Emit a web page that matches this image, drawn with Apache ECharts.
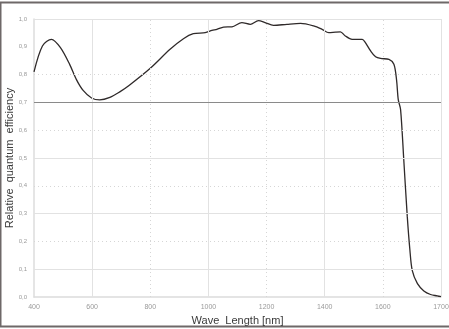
<!DOCTYPE html>
<html>
<head>
<meta charset="utf-8">
<script src="https://cdn.jsdelivr.net/npm/echarts@6/dist/echarts.min.js"></script>
<style>
  html, body { margin: 0; padding: 0; background: #fff; }
  #chart { width: 449px; height: 329px; }
</style>
</head>
<body>
<div id="chart"></div>
<script>
// 波长 (横轴位置, 图中最后一格标注为1700)
var waveLength = [400, 429, 460, 491, 523, 546, 569, 598, 626, 661, 695, 728, 799, 868, 914, 948, 989, 1012, 1029, 1052, 1081, 1115, 1144, 1172, 1195, 1224, 1270, 1317, 1362, 1391, 1414, 1437, 1454, 1471, 1494, 1529, 1540, 1558, 1575, 1592, 1621, 1638, 1647, 1653, 1661, 1672, 1684, 1693, 1701, 1719, 1741, 1764, 1787, 1800];
// 相对量子效率
var efficiency = [0.810, 0.903, 0.927, 0.897, 0.836, 0.782, 0.743, 0.716, 0.709, 0.718, 0.738, 0.762, 0.822, 0.891, 0.929, 0.947, 0.951, 0.959, 0.963, 0.971, 0.972, 0.987, 0.981, 0.994, 0.987, 0.977, 0.981, 0.984, 0.975, 0.963, 0.951, 0.953, 0.954, 0.939, 0.927, 0.927, 0.915, 0.885, 0.864, 0.858, 0.855, 0.837, 0.782, 0.710, 0.674, 0.493, 0.289, 0.169, 0.096, 0.048, 0.022, 0.009, 0.004, 0.001];

// 网格线
var solidX = [600, 1000, 1400, 1800];
var dottedX = [800, 1200, 1600];
var solidY = [0.1, 0.3, 0.5, 1.0];
var dottedY = [0.2, 0.4, 0.6, 0.8];
var refY = 0.7;

var chart = echarts.init(document.getElementById('chart'));

var gridLines = [];
solidX.forEach(function (v) {
    gridLines.push({ xAxis: v, lineStyle: { color: '#e2e2e2', width: 1, type: 'solid' } });
});
dottedX.forEach(function (v) {
    gridLines.push({ xAxis: v, lineStyle: { color: '#d6d6d6', width: 1, type: [1, 3] } });
});
solidY.forEach(function (v) {
    gridLines.push({ yAxis: v, lineStyle: { color: '#e2e2e2', width: 1, type: 'solid' } });
});
dottedY.forEach(function (v) {
    gridLines.push({ yAxis: v, lineStyle: { color: '#d6d6d6', width: 1, type: [1, 3] } });
});
gridLines.push({ yAxis: refY, lineStyle: { color: '#8a8a8a', width: 1, type: 'solid' } });

var option = {
    animation: false,
    grid: { left: 34, right: 8, top: 19, bottom: 32, containLabel: false, outerBoundsMode: 'none' },
    graphic: [{
        type: 'rect',
        shape: { x: 0.5, y: 2.5, width: 470, height: 324 },
        style: { fill: 'none', stroke: '#6e6868', lineWidth: 2 },
        silent: true
    }],
    xAxis: {
        type: 'value',
        min: 400,
        max: 1800,
        interval: 200,
        name: 'Wave  Length [nm]',
        nameLocation: 'middle',
        nameGap: 18,
        nameMoveOverlap: false,
        nameTextStyle: { color: '#3a3a3a', fontSize: 11, fontFamily: 'Liberation Sans' },
        axisLine: { show: true, lineStyle: { color: '#dcdcdc', width: 1.5 } },
        axisTick: { show: false },
        splitLine: { show: false },
        axisLabel: {
            color: '#9a9a9a',
            fontSize: 7,
            margin: 7,
            fontFamily: 'Liberation Sans',
            formatter: function (v) {
                return v === 1800 ? '1700' : String(v);
            }
        }
    },
    yAxis: {
        type: 'value',
        min: 0,
        max: 1,
        interval: 0.1,
        name: 'Relative  quantum  efficiency',
        nameLocation: 'middle',
        nameGap: 19,
        nameMoveOverlap: false,
        nameTextStyle: { color: '#3a3a3a', fontSize: 11, fontFamily: 'Liberation Sans' },
        axisLine: { show: true, lineStyle: { color: '#dcdcdc', width: 1.5 } },
        axisTick: { show: false },
        splitLine: { show: false },
        axisLabel: {
            color: '#9a9a9a',
            fontSize: 6,
            margin: 7,
            fontFamily: 'Liberation Sans',
            formatter: function (v) {
                return v.toFixed(1).replace('.', ',');
            }
        }
    },
    series: [{
        name: 'grid',
        type: 'line',
        data: [],
        z: 1,
        silent: true,
        markLine: {
            silent: true,
            symbol: ['none', 'none'],
            label: { show: false },
            animation: false,
            data: gridLines
        }
    }, {
        name: 'QE',
        type: 'line',
        z: 3,
        smooth: 0.3,
        showSymbol: false,
        lineStyle: { color: '#2f2a2a', width: 1.3 },
        data: waveLength.map(function (w, i) { return [w, efficiency[i]]; })
    }]
};

chart.setOption(option);
</script>
</body>
</html>
